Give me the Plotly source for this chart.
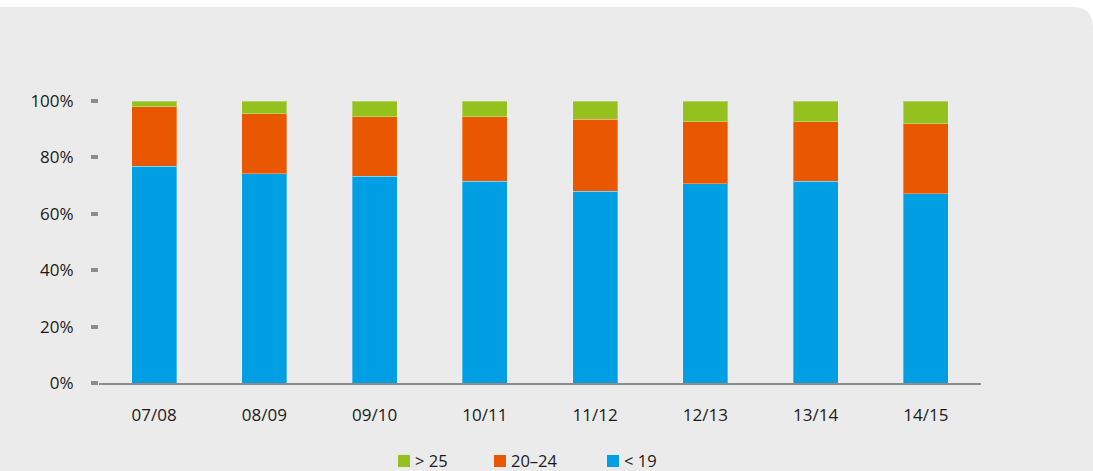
import plotly.graph_objects as go

# School years on the category axis
years = ["07/08", "08/09", "09/10", "10/11", "11/12", "12/13", "13/14", "14/15"]

# Share of each age group per year (percent, each column sums to 100)
under_19 = [76.8, 74.2, 73.3, 71.6, 68.0, 70.7, 71.6, 67.1]
age_20_24 = [21.2, 21.3, 21.1, 22.8, 25.6, 22.0, 21.1, 24.9]
over_25 = [2.0, 4.5, 5.6, 5.6, 6.4, 7.3, 7.3, 8.0]

y_ticks = [0, 20, 40, 60, 80, 100]
y_tick_labels = ["0%", "20%", "40%", "60%", "80%", "100%"]

W, H = 1093, 471
ML, MR, MT, MB = 99, 112, 101, 88
PW, PH = W - ML - MR, H - MT - MB


def px(x):
    return (x - ML) / PW


def py(y):
    return (H - MB - y) / PH


series = [
    ("< 19", under_19, "#009fe3"),
    ("20\u201324", age_20_24, "#e95800"),
    ("> 25", over_25, "#95c11f"),
]

font_family = "Open Sans, sans-serif"
text_color = "#1a1a1a"

fig = go.Figure()
for name, vals, color in series:
    fig.add_trace(go.Bar(
        x=years, y=vals, name=name,
        marker=dict(color=color, line=dict(color="rgba(255,255,255,0.3)", width=1)),
    ))

shapes = [
    # white strip above the panel
    dict(type="rect", xref="paper", yref="paper", layer="below",
         x0=px(-5), x1=px(W + 5), y0=py(7), y1=py(-5),
         fillcolor="white", line=dict(width=0)),
    # rounded top-right corner of the panel
    dict(type="path", xref="paper", yref="paper", layer="below",
         path=(f"M{px(1073)},{py(7)} L{px(W + 2)},{py(7)} L{px(W + 2)},{py(27)} "
               f"L{px(1093)},{py(27)} Q{px(1093)},{py(7)} {px(1073)},{py(7)} Z"),
         fillcolor="white", line=dict(width=0)),
]
annotations = []

# legend row at the bottom: > 25, 20–24, < 19
legend_left = [398, 494, 607]
for (name, _, color), x0 in zip(reversed(series), legend_left):
    shapes.append(dict(type="rect", xref="paper", yref="paper",
                       x0=px(x0), x1=px(x0 + 12), y0=py(467), y1=py(455),
                       fillcolor=color, line=dict(width=0)))
    annotations.append(dict(xref="paper", yref="paper", x=px(x0 + 16), y=py(460),
                            xanchor="left", yanchor="middle", showarrow=False,
                            borderpad=0,
                            text=name, font=dict(size=16.5, color=text_color)))

fig.update_layout(
    width=W, height=H,
    margin=dict(l=ML, r=MR, t=MT, b=MB, autoexpand=False),
    barmode="stack",
    bargap=0.59,
    paper_bgcolor="#ebebeb",
    plot_bgcolor="rgba(0,0,0,0)",
    font=dict(family=font_family, size=17, color=text_color),
    showlegend=False,
    xaxis=dict(
        range=[-0.5, 7.5],
        showgrid=False, zeroline=False,
        showline=True, linecolor="#8c8c8c", linewidth=2,
        ticks="", ticklabelstandoff=16,
        tickfont=dict(size=17, color=text_color),
    ),
    yaxis=dict(
        range=[0, 100],
        tickvals=y_ticks, ticktext=y_tick_labels,
        showgrid=False, zeroline=False, showline=False,
        ticks="outside", ticklen=7, tickwidth=4, tickcolor="#8c8c8c",
        ticklabelstandoff=14,
        tickfont=dict(size=17, color=text_color),
    ),
    shapes=shapes,
    annotations=annotations,
)

fig.write_html("out.html")
